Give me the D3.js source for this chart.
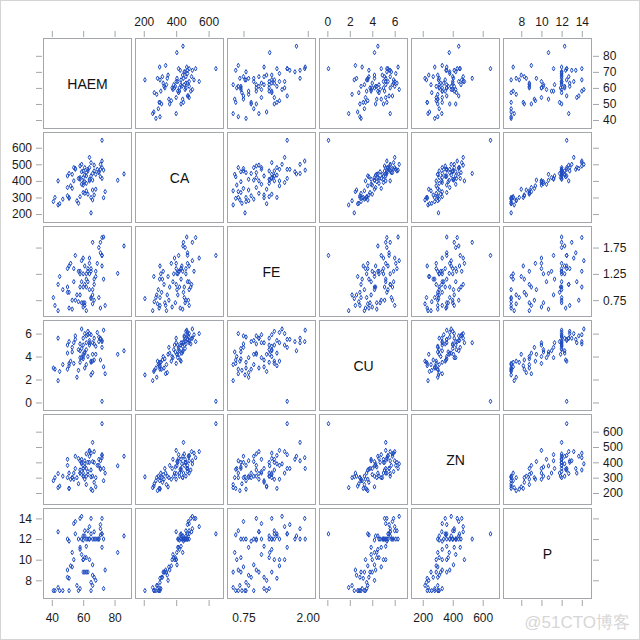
<!DOCTYPE html>
<meta charset="utf-8">
<script src="https://d3js.org/d3.v7.min.js"></script>
<style>
  body { margin: 0; background: #fff; }
  text { font-family: "Liberation Sans", Arial, sans-serif; }
</style>
<div id="my_dataviz"></div>
<script>

// variable names and axis ticks
var vars = ["HAEM", "CA", "FE", "CU", "ZN", "P"];
var rowTicks = {HAEM: [40,50,60,70,80], CA: [200,300,400,500,600], FE: [0.75,1.25,1.75],
                CU: [0,2,4,6], ZN: [200,300,400,500,600], P: [8,10,12,14]};
var colTicks = {HAEM: [40,60,80], CA: [200,400,600], FE: [0.75,2.00],
                CU: [0,2,4,6], ZN: [200,400,600], P: [8,10,12,14]};

var HAEM = [41,42,45,47,51,65,58,57,66,73,56,44,
            50,51,60,61,62,63,66,67,68,74,65,
            50,52,53,59,60,61,62,64,60,54,66,
            58,58,62,72,82,53,
            50,51,55,59,60,61,62,63,64,65,66,67,68,69,70,71,72,72,73,86,60,64,57,70,
            54,55,59,65,71,61,67,72,58,63,44,64,71];
var CA   = [275,300,262,290,295,207,305,265,285,298,280,255,
            310,300,330,325,340,320,345,315,350,335,300,
            360,370,355,380,390,395,385,400,375,400,405,
            420,410,430,415,404,440,
            430,445,470,455,460,435,450,470,480,430,445,460,440,470,455,425,645,480,465,442,420,410,415,450,
            480,475,500,510,470,480,495,520,490,460,400,542,500];
var FE   = [0.80,0.65,1.20,0.95,0.60,0.78,1.25,0.72,0.68,1.15,0.85,0.55,
            0.90,1.40,0.70,1.05,0.55,1.30,0.85,1.15,1.20,0.65,0.80,
            1.00,1.45,0.75,1.10,1.55,0.70,1.25,1.45,0.62,1.35,0.95,
            1.30,0.85,1.15,1.60,1.26,0.58,
            1.35,0.90,1.60,0.70,1.25,1.40,1.00,1.10,0.95,1.35,1.85,0.75,1.30,1.45,1.75,0.60,1.60,1.40,1.95,1.78,1.00,1.25,1.30,0.80,
            1.10,0.75,1.50,1.30,1.65,0.65,1.05,1.94,1.00,1.35,1.05,1.55,1.85];
var CU   = [3.0,2.9,2.7,3.3,3.4,2.4,3.5,2.8,3.6,3.1,2.2,1.9,
            2.9,3.2,3.8,3.0,3.3,4.0,2.6,3.7,4.2,2.5,3.5,
            4.3,3.6,4.8,3.9,5.0,4.4,4.6,5.2,4.0,3.4,4.2,
            4.5,3.9,5.2,4.8,4.2,4.4,
            5.0,5.3,5.5,4.7,5.6,4.3,5.8,5.9,5.4,3.6,5.2,5.1,4.9,6.1,5.3,3.7,0.1,5.4,6.3,4.5,4.2,5.0,4.6,5.7,
            5.2,5.8,6.4,5.9,5.5,6.0,5.6,5.3,5.1,6.2,5.6,6.0,5.6];
var ZN   = [280,300,245,310,230,305,330,260,215,280,300,235,
            300,230,360,290,255,320,310,270,240,330,225,
            380,290,300,420,330,370,310,478,360,290,405,
            330,410,360,450,377,300,
            420,330,360,400,310,390,455,340,440,350,530,400,300,380,420,355,652,445,360,440,310,400,425,380,
            330,440,390,460,360,410,470,430,350,400,327,470,410];
var P    = [7.0,7.0,7.0,7.0,7.0,7.0,7.2,7.0,7.5,7.2,7.5,7.3,
            8.3,8.2,8.8,8.8,8.8,8.8,8.5,8.3,8.0,9.0,7.8,
            9.0,9.4,9.3,10.5,10.0,10.2,10.2,10.0,10.0,10.0,9.5,
            11.0,11.2,11.3,11.2,10.7,10.7,
            12.0,11.8,12.5,12.0,12.3,12.3,12.0,12.0,12.0,12.5,12.0,12.0,12.0,12.0,12.0,12.4,12.5,12.5,12.0,12.3,11.9,12.0,12.0,12.0,
            13.5,13.7,14.2,14.0,13.4,12.8,12.7,14.0,14.0,12.8,12.7,13.2,13.0];

var cols = {HAEM: HAEM, CA: CA, FE: FE, CU: CU, ZN: ZN, P: P};
var domains = {HAEM: [34.7, 90.8], CA: [149, 692], FE: [0.44, 2.15],
               CU: [-0.7, 7.14], ZN: [125, 712], P: [6.24, 14.96]};
var fmt = {HAEM: d3.format("d"), CA: d3.format("d"), FE: d3.format(".2f"),
           CU: d3.format("d"), ZN: d3.format("d"), P: d3.format("d")};

var data = HAEM.map(function(d, i) {
  var o = {};
  vars.forEach(function(v) { o[v] = cols[v][i]; });
  return o;
});

var W = 640, H = 640;
var left = 43.5, top0 = 38.5, pw = 88, ph = 90, stepX = 92, stepY = 94;
var grey = "#a3a6aa", dot = "#1f4cc0";

var svg = d3.select("#my_dataviz").append("svg")
  .attr("width", W).attr("height", H);

svg.append("rect")
  .attr("x", 0.5).attr("y", 0.5).attr("width", W - 1).attr("height", H - 1)
  .attr("fill", "#fff").attr("stroke", "#d4d4d4");

function xs(v, i) { return d3.scaleLinear().domain(domains[v]).range([left + i*stepX, left + i*stepX + pw]); }
function ys(v, j) { return d3.scaleLinear().domain(domains[v]).range([top0 + j*stepY + ph, top0 + j*stepY]); }

function styleAxis(g, showLabels) {
  g.select(".domain").remove();
  g.selectAll(".tick line").attr("stroke", grey);
  g.selectAll(".tick text").attr("fill", "#1a1a1a").style("font-size", "12px")
    .style("font-family", "'Liberation Sans', Arial, sans-serif");
  if (!showLabels) g.selectAll(".tick text").remove();
}

var n = vars.length;
vars.forEach(function(v, i) {
  var x = xs(v, i);
  // top axis: labels on CA, CU, P
  svg.append("g").attr("transform", "translate(0," + (top0 - 1.5) + ")")
    .call(d3.axisTop(x).tickValues(colTicks[v]).tickSize(6).tickPadding(5).tickFormat(fmt[v]))
    .call(styleAxis, i % 2 === 1);
  // bottom axis: labels on HAEM, FE, ZN
  var gb = svg.append("g").attr("transform", "translate(0," + (top0 + (n-1)*stepY + ph + 1.5) + ")")
    .call(d3.axisBottom(x).tickValues(colTicks[v]).tickSize(6).tickPadding(7).tickFormat(fmt[v]))
    .call(styleAxis, i % 2 === 0);
  if (v === "FE") gb.selectAll(".tick line").remove();

  var y = ys(v, i);
  // left axis: labels on CA, CU, P
  svg.append("g").attr("transform", "translate(" + (left - 1.5) + ",0)")
    .call(d3.axisLeft(y).tickValues(rowTicks[v]).tickSize(6).tickPadding(4).tickFormat(fmt[v]))
    .call(styleAxis, i % 2 === 1);
  // right axis: labels on HAEM, FE, ZN
  svg.append("g").attr("transform", "translate(" + (left + (n-1)*stepX + pw + 1.5) + ",0)")
    .call(d3.axisRight(y).tickValues(rowTicks[v]).tickSize(6).tickPadding(4).tickFormat(fmt[v]))
    .call(styleAxis, i % 2 === 0);
});

var diamond = d3.symbol().type(d3.symbolDiamond).size(6);

// panels
vars.forEach(function(rv, j) {
  vars.forEach(function(cv, i) {
    var x = xs(cv, i), y = ys(rv, j);
    var g = svg.append("g");
    if (i === j) {
      g.append("text")
        .attr("x", left + i*stepX + pw/2).attr("y", top0 + j*stepY + ph/2)
        .attr("text-anchor", "middle").attr("dy", "0.36em")
        .style("font-size", "14px").attr("fill", "#111")
        .text(rv);
    } else {
      g.selectAll("path").data(data).enter().append("path")
        .attr("d", diamond)
        .attr("transform", function(d) { return "translate(" + x(d[cv]) + "," + y(d[rv]) + ")"; })
        .attr("fill", "none").attr("stroke", dot).attr("stroke-width", 1);
    }
    g.append("rect")
      .attr("x", left + i*stepX).attr("y", top0 + j*stepY)
      .attr("width", pw).attr("height", ph)
      .attr("fill", "none").attr("stroke", grey);
  });
});

// watermark
svg.append("text")
  .attr("x", 630).attr("y", 628).attr("text-anchor", "end")
  .style("font-size", "17px").attr("fill", "#d6d6d6")
  .text("@51CTO博客");

</script>
